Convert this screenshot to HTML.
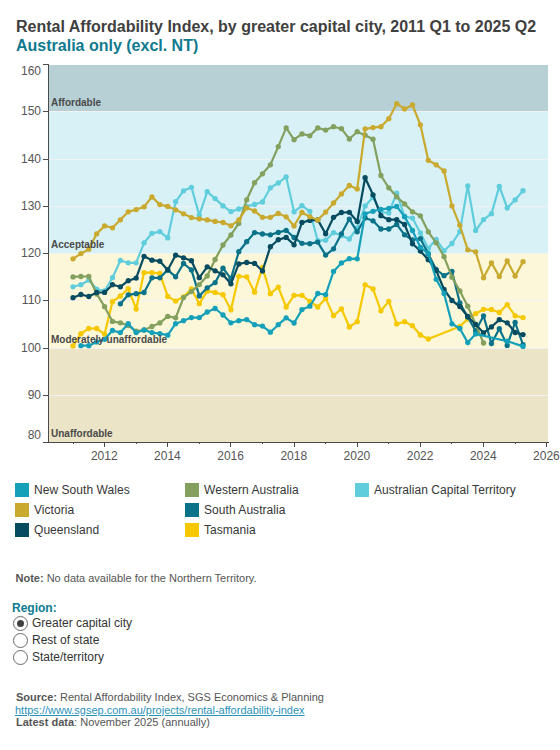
<!DOCTYPE html>
<html><head><meta charset="utf-8"><style>
html,body{margin:0;padding:0;background:#fff;width:560px;height:750px;overflow:hidden;font-family:"Liberation Sans",sans-serif;}
.t1{position:absolute;left:16px;top:18px;font-weight:bold;font-size:16px;color:#404040;white-space:nowrap;line-height:18px}
.t2{position:absolute;left:16px;top:37px;font-weight:bold;font-size:16px;color:#0f7a8f;white-space:nowrap;line-height:18px}
svg{position:absolute;left:0;top:0}
.bl{font-weight:bold;font-size:10px;fill:#4a4a4a;font-family:"Liberation Sans",sans-serif}
.yl{font-size:12px;fill:#555;font-family:"Liberation Sans",sans-serif}
.lg{position:absolute;font-size:12px;color:#363636;white-space:nowrap;line-height:14px;letter-spacing:0.05px}
.sw{position:absolute;width:14px;height:14px}
.note{position:absolute;left:15.5px;top:572px;font-size:11px;color:#555;white-space:nowrap}
.rh{position:absolute;left:12px;top:601px;font-size:12px;font-weight:bold;color:#0f7a8f}
.ro{position:absolute;font-size:12px;color:#333;white-space:nowrap}
.rc{position:absolute;width:15px;height:15px;border:1px solid #6a6a6a;border-radius:50%;box-sizing:border-box;background:#fff}
.src{position:absolute;left:16px;font-size:11px;color:#555;white-space:nowrap;line-height:12px}
a{color:#2a93b8;text-decoration:underline}
</style></head><body>
<div class="t1">Rental Affordability Index, by greater capital city, 2011 Q1 to 2025 Q2</div>
<div class="t2">Australia only (excl. NT)</div>
<svg width="560" height="480" viewBox="0 0 560 480">
<rect x="49" y="65" width="499" height="46" fill="#b6d0d6"/><rect x="49" y="111" width="499" height="142" fill="#d8f1f6"/><rect x="49" y="253" width="499" height="95" fill="#fcf7d8"/><rect x="49" y="348" width="499" height="94" fill="#ebe4c6"/><rect x="49" y="395" width="499" height="1" fill="#f2f2f3"/><rect x="49" y="348" width="499" height="1" fill="#f2f2f3"/><rect x="49" y="300" width="499" height="1" fill="#f2f2f3"/><rect x="49" y="253" width="499" height="1" fill="#f2f2f3"/><rect x="49" y="206" width="499" height="1" fill="#f2f2f3"/><rect x="49" y="159" width="499" height="1" fill="#f2f2f3"/><rect x="49" y="111" width="499" height="1" fill="#f2f2f3"/>
<path d="M73.00,286.80 L80.89,284.70 L88.79,280.20 L96.69,289.10 L104.58,291.00 L112.47,277.70 L120.37,260.50 L128.26,262.80 L136.16,262.80 L144.06,242.80 L151.95,233.30 L159.84,231.60 L167.74,237.90 L175.63,201.70 L183.53,190.80 L191.43,187.30 L199.32,215.40 L207.22,191.70 L215.11,198.60 L223.00,205.90 L230.90,211.60 L238.79,209.00 L246.69,206.40 L254.58,204.40 L262.48,202.00 L270.38,187.80 L278.27,183.00 L286.16,176.90 L294.06,211.80 L301.95,205.70 L309.85,211.30 L317.75,240.70 L325.64,240.20 L333.53,232.60 L341.43,235.50 L349.32,239.00 L357.22,228.00 L365.12,205.90 L373.01,197.30 L380.90,212.00 L388.80,213.00 L396.69,193.20 L404.59,216.50 L412.48,218.10 L420.38,233.00 L428.27,248.50 L436.17,239.30 L444.06,250.80 L451.96,243.50 L459.85,231.60 L467.75,185.90 L475.64,230.50 L483.54,219.60 L491.44,213.70 L499.33,186.40 L507.22,208.00 L515.12,199.90 L523.01,190.70" fill="none" stroke="#60cddc" stroke-width="2.2" stroke-linejoin="round"/><circle cx="73.00" cy="286.80" r="2.65" fill="#60cddc"/><circle cx="80.89" cy="284.70" r="2.65" fill="#60cddc"/><circle cx="88.79" cy="280.20" r="2.65" fill="#60cddc"/><circle cx="96.69" cy="289.10" r="2.65" fill="#60cddc"/><circle cx="104.58" cy="291.00" r="2.65" fill="#60cddc"/><circle cx="112.47" cy="277.70" r="2.65" fill="#60cddc"/><circle cx="120.37" cy="260.50" r="2.65" fill="#60cddc"/><circle cx="128.26" cy="262.80" r="2.65" fill="#60cddc"/><circle cx="136.16" cy="262.80" r="2.65" fill="#60cddc"/><circle cx="144.06" cy="242.80" r="2.65" fill="#60cddc"/><circle cx="151.95" cy="233.30" r="2.65" fill="#60cddc"/><circle cx="159.84" cy="231.60" r="2.65" fill="#60cddc"/><circle cx="167.74" cy="237.90" r="2.65" fill="#60cddc"/><circle cx="175.63" cy="201.70" r="2.65" fill="#60cddc"/><circle cx="183.53" cy="190.80" r="2.65" fill="#60cddc"/><circle cx="191.43" cy="187.30" r="2.65" fill="#60cddc"/><circle cx="199.32" cy="215.40" r="2.65" fill="#60cddc"/><circle cx="207.22" cy="191.70" r="2.65" fill="#60cddc"/><circle cx="215.11" cy="198.60" r="2.65" fill="#60cddc"/><circle cx="223.00" cy="205.90" r="2.65" fill="#60cddc"/><circle cx="230.90" cy="211.60" r="2.65" fill="#60cddc"/><circle cx="238.79" cy="209.00" r="2.65" fill="#60cddc"/><circle cx="246.69" cy="206.40" r="2.65" fill="#60cddc"/><circle cx="254.58" cy="204.40" r="2.65" fill="#60cddc"/><circle cx="262.48" cy="202.00" r="2.65" fill="#60cddc"/><circle cx="270.38" cy="187.80" r="2.65" fill="#60cddc"/><circle cx="278.27" cy="183.00" r="2.65" fill="#60cddc"/><circle cx="286.16" cy="176.90" r="2.65" fill="#60cddc"/><circle cx="294.06" cy="211.80" r="2.65" fill="#60cddc"/><circle cx="301.95" cy="205.70" r="2.65" fill="#60cddc"/><circle cx="309.85" cy="211.30" r="2.65" fill="#60cddc"/><circle cx="317.75" cy="240.70" r="2.65" fill="#60cddc"/><circle cx="325.64" cy="240.20" r="2.65" fill="#60cddc"/><circle cx="333.53" cy="232.60" r="2.65" fill="#60cddc"/><circle cx="341.43" cy="235.50" r="2.65" fill="#60cddc"/><circle cx="349.32" cy="239.00" r="2.65" fill="#60cddc"/><circle cx="357.22" cy="228.00" r="2.65" fill="#60cddc"/><circle cx="365.12" cy="205.90" r="2.65" fill="#60cddc"/><circle cx="373.01" cy="197.30" r="2.65" fill="#60cddc"/><circle cx="380.90" cy="212.00" r="2.65" fill="#60cddc"/><circle cx="388.80" cy="213.00" r="2.65" fill="#60cddc"/><circle cx="396.69" cy="193.20" r="2.65" fill="#60cddc"/><circle cx="404.59" cy="216.50" r="2.65" fill="#60cddc"/><circle cx="412.48" cy="218.10" r="2.65" fill="#60cddc"/><circle cx="420.38" cy="233.00" r="2.65" fill="#60cddc"/><circle cx="428.27" cy="248.50" r="2.65" fill="#60cddc"/><circle cx="436.17" cy="239.30" r="2.65" fill="#60cddc"/><circle cx="444.06" cy="250.80" r="2.65" fill="#60cddc"/><circle cx="451.96" cy="243.50" r="2.65" fill="#60cddc"/><circle cx="459.85" cy="231.60" r="2.65" fill="#60cddc"/><circle cx="467.75" cy="185.90" r="2.65" fill="#60cddc"/><circle cx="475.64" cy="230.50" r="2.65" fill="#60cddc"/><circle cx="483.54" cy="219.60" r="2.65" fill="#60cddc"/><circle cx="491.44" cy="213.70" r="2.65" fill="#60cddc"/><circle cx="499.33" cy="186.40" r="2.65" fill="#60cddc"/><circle cx="507.22" cy="208.00" r="2.65" fill="#60cddc"/><circle cx="515.12" cy="199.90" r="2.65" fill="#60cddc"/><circle cx="523.01" cy="190.70" r="2.65" fill="#60cddc"/><path d="M73.00,345.90 L80.89,333.70 L88.79,328.50 L96.69,328.50 L104.58,334.10 L112.47,301.70 L120.37,296.00 L128.26,288.70 L136.16,309.00 L144.06,272.60 L151.95,272.60 L159.84,273.40 L167.74,296.40 L175.63,301.10 L183.53,296.80 L191.43,289.00 L199.32,303.70 L207.22,291.20 L215.11,292.40 L223.00,294.70 L230.90,309.80 L238.79,276.30 L246.69,276.80 L254.58,292.20 L262.48,267.50 L270.38,293.70 L278.27,287.10 L286.16,307.00 L294.06,295.30 L301.95,295.30 L309.85,301.50 L317.75,307.00 L325.64,298.40 L333.53,315.70 L341.43,308.80 L349.32,327.00 L357.22,321.70 L365.12,284.80 L373.01,288.80 L380.90,310.80 L388.80,301.40 L396.69,323.90 L404.59,321.70 L412.48,325.70 L420.38,335.00 L428.27,339.00 L459.85,326.40 L467.75,319.00 L475.64,313.70 L483.54,309.30 L491.44,309.50 L499.33,312.50 L507.22,304.60 L515.12,315.80 L523.01,317.60" fill="none" stroke="#f6c800" stroke-width="2.2" stroke-linejoin="round"/><circle cx="73.00" cy="345.90" r="2.65" fill="#f6c800"/><circle cx="80.89" cy="333.70" r="2.65" fill="#f6c800"/><circle cx="88.79" cy="328.50" r="2.65" fill="#f6c800"/><circle cx="96.69" cy="328.50" r="2.65" fill="#f6c800"/><circle cx="104.58" cy="334.10" r="2.65" fill="#f6c800"/><circle cx="112.47" cy="301.70" r="2.65" fill="#f6c800"/><circle cx="120.37" cy="296.00" r="2.65" fill="#f6c800"/><circle cx="128.26" cy="288.70" r="2.65" fill="#f6c800"/><circle cx="136.16" cy="309.00" r="2.65" fill="#f6c800"/><circle cx="144.06" cy="272.60" r="2.65" fill="#f6c800"/><circle cx="151.95" cy="272.60" r="2.65" fill="#f6c800"/><circle cx="159.84" cy="273.40" r="2.65" fill="#f6c800"/><circle cx="167.74" cy="296.40" r="2.65" fill="#f6c800"/><circle cx="175.63" cy="301.10" r="2.65" fill="#f6c800"/><circle cx="183.53" cy="296.80" r="2.65" fill="#f6c800"/><circle cx="191.43" cy="289.00" r="2.65" fill="#f6c800"/><circle cx="199.32" cy="303.70" r="2.65" fill="#f6c800"/><circle cx="207.22" cy="291.20" r="2.65" fill="#f6c800"/><circle cx="215.11" cy="292.40" r="2.65" fill="#f6c800"/><circle cx="223.00" cy="294.70" r="2.65" fill="#f6c800"/><circle cx="230.90" cy="309.80" r="2.65" fill="#f6c800"/><circle cx="238.79" cy="276.30" r="2.65" fill="#f6c800"/><circle cx="246.69" cy="276.80" r="2.65" fill="#f6c800"/><circle cx="254.58" cy="292.20" r="2.65" fill="#f6c800"/><circle cx="262.48" cy="267.50" r="2.65" fill="#f6c800"/><circle cx="270.38" cy="293.70" r="2.65" fill="#f6c800"/><circle cx="278.27" cy="287.10" r="2.65" fill="#f6c800"/><circle cx="286.16" cy="307.00" r="2.65" fill="#f6c800"/><circle cx="294.06" cy="295.30" r="2.65" fill="#f6c800"/><circle cx="301.95" cy="295.30" r="2.65" fill="#f6c800"/><circle cx="309.85" cy="301.50" r="2.65" fill="#f6c800"/><circle cx="317.75" cy="307.00" r="2.65" fill="#f6c800"/><circle cx="325.64" cy="298.40" r="2.65" fill="#f6c800"/><circle cx="333.53" cy="315.70" r="2.65" fill="#f6c800"/><circle cx="341.43" cy="308.80" r="2.65" fill="#f6c800"/><circle cx="349.32" cy="327.00" r="2.65" fill="#f6c800"/><circle cx="357.22" cy="321.70" r="2.65" fill="#f6c800"/><circle cx="365.12" cy="284.80" r="2.65" fill="#f6c800"/><circle cx="373.01" cy="288.80" r="2.65" fill="#f6c800"/><circle cx="380.90" cy="310.80" r="2.65" fill="#f6c800"/><circle cx="388.80" cy="301.40" r="2.65" fill="#f6c800"/><circle cx="396.69" cy="323.90" r="2.65" fill="#f6c800"/><circle cx="404.59" cy="321.70" r="2.65" fill="#f6c800"/><circle cx="412.48" cy="325.70" r="2.65" fill="#f6c800"/><circle cx="420.38" cy="335.00" r="2.65" fill="#f6c800"/><circle cx="428.27" cy="339.00" r="2.65" fill="#f6c800"/><circle cx="459.85" cy="326.40" r="2.65" fill="#f6c800"/><circle cx="467.75" cy="319.00" r="2.65" fill="#f6c800"/><circle cx="475.64" cy="313.70" r="2.65" fill="#f6c800"/><circle cx="483.54" cy="309.30" r="2.65" fill="#f6c800"/><circle cx="491.44" cy="309.50" r="2.65" fill="#f6c800"/><circle cx="499.33" cy="312.50" r="2.65" fill="#f6c800"/><circle cx="507.22" cy="304.60" r="2.65" fill="#f6c800"/><circle cx="515.12" cy="315.80" r="2.65" fill="#f6c800"/><circle cx="523.01" cy="317.60" r="2.65" fill="#f6c800"/><path d="M120.37,303.80 L128.26,294.80 L136.16,293.70 L144.06,292.50 L151.95,277.80 L159.84,277.80 L167.74,269.90 L175.63,276.80 L183.53,263.50 L191.43,269.90 L199.32,295.90 L207.22,287.80 L215.11,282.60 L223.00,268.20 L230.90,278.60 L238.79,251.70 L246.69,241.70 L254.58,232.60 L262.48,234.00 L270.38,234.80 L278.27,232.40 L286.16,230.40 L294.06,237.50 L301.95,243.30 L309.85,243.70 L317.75,242.10 L325.64,255.10 L333.53,248.80 L341.43,233.80 L349.32,219.10 L357.22,231.80 L365.12,218.00 L373.01,220.80 L380.90,229.00 L388.80,229.00 L396.69,224.40 L404.59,234.80 L412.48,240.00 L420.38,238.60 L428.27,254.00 L436.17,269.50 L444.06,275.70 L451.96,271.30 L459.85,303.00 L467.75,317.00 L475.64,331.00 L483.54,315.80 L491.44,343.60 L499.33,328.70 L507.22,345.40 L515.12,322.50 L523.01,344.60" fill="none" stroke="#0a7289" stroke-width="2.2" stroke-linejoin="round"/><circle cx="120.37" cy="303.80" r="2.65" fill="#0a7289"/><circle cx="128.26" cy="294.80" r="2.65" fill="#0a7289"/><circle cx="136.16" cy="293.70" r="2.65" fill="#0a7289"/><circle cx="144.06" cy="292.50" r="2.65" fill="#0a7289"/><circle cx="151.95" cy="277.80" r="2.65" fill="#0a7289"/><circle cx="159.84" cy="277.80" r="2.65" fill="#0a7289"/><circle cx="167.74" cy="269.90" r="2.65" fill="#0a7289"/><circle cx="175.63" cy="276.80" r="2.65" fill="#0a7289"/><circle cx="183.53" cy="263.50" r="2.65" fill="#0a7289"/><circle cx="191.43" cy="269.90" r="2.65" fill="#0a7289"/><circle cx="199.32" cy="295.90" r="2.65" fill="#0a7289"/><circle cx="207.22" cy="287.80" r="2.65" fill="#0a7289"/><circle cx="215.11" cy="282.60" r="2.65" fill="#0a7289"/><circle cx="223.00" cy="268.20" r="2.65" fill="#0a7289"/><circle cx="230.90" cy="278.60" r="2.65" fill="#0a7289"/><circle cx="238.79" cy="251.70" r="2.65" fill="#0a7289"/><circle cx="246.69" cy="241.70" r="2.65" fill="#0a7289"/><circle cx="254.58" cy="232.60" r="2.65" fill="#0a7289"/><circle cx="262.48" cy="234.00" r="2.65" fill="#0a7289"/><circle cx="270.38" cy="234.80" r="2.65" fill="#0a7289"/><circle cx="278.27" cy="232.40" r="2.65" fill="#0a7289"/><circle cx="286.16" cy="230.40" r="2.65" fill="#0a7289"/><circle cx="294.06" cy="237.50" r="2.65" fill="#0a7289"/><circle cx="301.95" cy="243.30" r="2.65" fill="#0a7289"/><circle cx="309.85" cy="243.70" r="2.65" fill="#0a7289"/><circle cx="317.75" cy="242.10" r="2.65" fill="#0a7289"/><circle cx="325.64" cy="255.10" r="2.65" fill="#0a7289"/><circle cx="333.53" cy="248.80" r="2.65" fill="#0a7289"/><circle cx="341.43" cy="233.80" r="2.65" fill="#0a7289"/><circle cx="349.32" cy="219.10" r="2.65" fill="#0a7289"/><circle cx="357.22" cy="231.80" r="2.65" fill="#0a7289"/><circle cx="365.12" cy="218.00" r="2.65" fill="#0a7289"/><circle cx="373.01" cy="220.80" r="2.65" fill="#0a7289"/><circle cx="380.90" cy="229.00" r="2.65" fill="#0a7289"/><circle cx="388.80" cy="229.00" r="2.65" fill="#0a7289"/><circle cx="396.69" cy="224.40" r="2.65" fill="#0a7289"/><circle cx="404.59" cy="234.80" r="2.65" fill="#0a7289"/><circle cx="412.48" cy="240.00" r="2.65" fill="#0a7289"/><circle cx="420.38" cy="238.60" r="2.65" fill="#0a7289"/><circle cx="428.27" cy="254.00" r="2.65" fill="#0a7289"/><circle cx="436.17" cy="269.50" r="2.65" fill="#0a7289"/><circle cx="444.06" cy="275.70" r="2.65" fill="#0a7289"/><circle cx="451.96" cy="271.30" r="2.65" fill="#0a7289"/><circle cx="459.85" cy="303.00" r="2.65" fill="#0a7289"/><circle cx="467.75" cy="317.00" r="2.65" fill="#0a7289"/><circle cx="475.64" cy="331.00" r="2.65" fill="#0a7289"/><circle cx="483.54" cy="315.80" r="2.65" fill="#0a7289"/><circle cx="491.44" cy="343.60" r="2.65" fill="#0a7289"/><circle cx="499.33" cy="328.70" r="2.65" fill="#0a7289"/><circle cx="507.22" cy="345.40" r="2.65" fill="#0a7289"/><circle cx="515.12" cy="322.50" r="2.65" fill="#0a7289"/><circle cx="523.01" cy="344.60" r="2.65" fill="#0a7289"/><path d="M73.00,276.90 L80.89,276.50 L88.79,276.50 L96.69,294.00 L104.58,306.70 L112.47,321.40 L120.37,322.80 L128.26,325.60 L136.16,331.20 L144.06,330.00 L151.95,326.50 L159.84,322.90 L167.74,316.40 L175.63,317.80 L183.53,297.60 L191.43,291.60 L199.32,284.60 L207.22,276.00 L215.11,259.50 L223.00,245.00 L230.90,235.00 L238.79,223.40 L246.69,199.80 L254.58,182.70 L262.48,173.80 L270.38,164.80 L278.27,146.60 L286.16,127.90 L294.06,139.70 L301.95,133.90 L309.85,135.80 L317.75,127.90 L325.64,130.10 L333.53,126.70 L341.43,128.70 L349.32,139.00 L357.22,131.70 L365.12,135.20 L373.01,139.20 L380.90,175.50 L388.80,187.80 L396.69,196.80 L404.59,203.90 L412.48,211.80 L420.38,215.80 L428.27,231.80 L436.17,242.80 L444.06,256.70 L451.96,277.20 L459.85,290.90 L467.75,306.20 L475.64,324.40 L483.54,343.00" fill="none" stroke="#84a05e" stroke-width="2.2" stroke-linejoin="round"/><circle cx="73.00" cy="276.90" r="2.65" fill="#84a05e"/><circle cx="80.89" cy="276.50" r="2.65" fill="#84a05e"/><circle cx="88.79" cy="276.50" r="2.65" fill="#84a05e"/><circle cx="96.69" cy="294.00" r="2.65" fill="#84a05e"/><circle cx="104.58" cy="306.70" r="2.65" fill="#84a05e"/><circle cx="112.47" cy="321.40" r="2.65" fill="#84a05e"/><circle cx="120.37" cy="322.80" r="2.65" fill="#84a05e"/><circle cx="128.26" cy="325.60" r="2.65" fill="#84a05e"/><circle cx="136.16" cy="331.20" r="2.65" fill="#84a05e"/><circle cx="144.06" cy="330.00" r="2.65" fill="#84a05e"/><circle cx="151.95" cy="326.50" r="2.65" fill="#84a05e"/><circle cx="159.84" cy="322.90" r="2.65" fill="#84a05e"/><circle cx="167.74" cy="316.40" r="2.65" fill="#84a05e"/><circle cx="175.63" cy="317.80" r="2.65" fill="#84a05e"/><circle cx="183.53" cy="297.60" r="2.65" fill="#84a05e"/><circle cx="191.43" cy="291.60" r="2.65" fill="#84a05e"/><circle cx="199.32" cy="284.60" r="2.65" fill="#84a05e"/><circle cx="207.22" cy="276.00" r="2.65" fill="#84a05e"/><circle cx="215.11" cy="259.50" r="2.65" fill="#84a05e"/><circle cx="223.00" cy="245.00" r="2.65" fill="#84a05e"/><circle cx="230.90" cy="235.00" r="2.65" fill="#84a05e"/><circle cx="238.79" cy="223.40" r="2.65" fill="#84a05e"/><circle cx="246.69" cy="199.80" r="2.65" fill="#84a05e"/><circle cx="254.58" cy="182.70" r="2.65" fill="#84a05e"/><circle cx="262.48" cy="173.80" r="2.65" fill="#84a05e"/><circle cx="270.38" cy="164.80" r="2.65" fill="#84a05e"/><circle cx="278.27" cy="146.60" r="2.65" fill="#84a05e"/><circle cx="286.16" cy="127.90" r="2.65" fill="#84a05e"/><circle cx="294.06" cy="139.70" r="2.65" fill="#84a05e"/><circle cx="301.95" cy="133.90" r="2.65" fill="#84a05e"/><circle cx="309.85" cy="135.80" r="2.65" fill="#84a05e"/><circle cx="317.75" cy="127.90" r="2.65" fill="#84a05e"/><circle cx="325.64" cy="130.10" r="2.65" fill="#84a05e"/><circle cx="333.53" cy="126.70" r="2.65" fill="#84a05e"/><circle cx="341.43" cy="128.70" r="2.65" fill="#84a05e"/><circle cx="349.32" cy="139.00" r="2.65" fill="#84a05e"/><circle cx="357.22" cy="131.70" r="2.65" fill="#84a05e"/><circle cx="365.12" cy="135.20" r="2.65" fill="#84a05e"/><circle cx="373.01" cy="139.20" r="2.65" fill="#84a05e"/><circle cx="380.90" cy="175.50" r="2.65" fill="#84a05e"/><circle cx="388.80" cy="187.80" r="2.65" fill="#84a05e"/><circle cx="396.69" cy="196.80" r="2.65" fill="#84a05e"/><circle cx="404.59" cy="203.90" r="2.65" fill="#84a05e"/><circle cx="412.48" cy="211.80" r="2.65" fill="#84a05e"/><circle cx="420.38" cy="215.80" r="2.65" fill="#84a05e"/><circle cx="428.27" cy="231.80" r="2.65" fill="#84a05e"/><circle cx="436.17" cy="242.80" r="2.65" fill="#84a05e"/><circle cx="444.06" cy="256.70" r="2.65" fill="#84a05e"/><circle cx="451.96" cy="277.20" r="2.65" fill="#84a05e"/><circle cx="459.85" cy="290.90" r="2.65" fill="#84a05e"/><circle cx="467.75" cy="306.20" r="2.65" fill="#84a05e"/><circle cx="475.64" cy="324.40" r="2.65" fill="#84a05e"/><circle cx="483.54" cy="343.00" r="2.65" fill="#84a05e"/><path d="M73.00,297.70 L80.89,294.50 L88.79,296.50 L96.69,292.50 L104.58,292.40 L112.47,284.70 L120.37,286.80 L128.26,280.70 L136.16,278.10 L144.06,256.30 L151.95,260.20 L159.84,261.20 L167.74,269.90 L175.63,255.20 L183.53,257.80 L191.43,260.70 L199.32,277.70 L207.22,266.80 L215.11,270.80 L223.00,274.80 L230.90,283.80 L238.79,263.90 L246.69,262.50 L254.58,263.40 L262.48,271.00 L270.38,246.70 L278.27,239.70 L286.16,237.40 L294.06,244.80 L301.95,222.50 L309.85,220.40 L317.75,219.90 L325.64,233.80 L333.53,217.30 L341.43,212.50 L349.32,212.30 L357.22,221.50 L365.12,177.70 L373.01,194.80 L380.90,215.70 L388.80,219.70 L396.69,219.70 L404.59,224.50 L412.48,243.80 L420.38,251.00 L428.27,259.70 L436.17,270.40 L444.06,289.50 L451.96,300.50 L459.85,306.50 L467.75,316.50 L475.64,324.50 L483.54,332.80 L491.44,326.90 L499.33,319.70 L507.22,322.80 L515.12,332.50 L523.01,334.60" fill="none" stroke="#064b5f" stroke-width="2.2" stroke-linejoin="round"/><circle cx="73.00" cy="297.70" r="2.65" fill="#064b5f"/><circle cx="80.89" cy="294.50" r="2.65" fill="#064b5f"/><circle cx="88.79" cy="296.50" r="2.65" fill="#064b5f"/><circle cx="96.69" cy="292.50" r="2.65" fill="#064b5f"/><circle cx="104.58" cy="292.40" r="2.65" fill="#064b5f"/><circle cx="112.47" cy="284.70" r="2.65" fill="#064b5f"/><circle cx="120.37" cy="286.80" r="2.65" fill="#064b5f"/><circle cx="128.26" cy="280.70" r="2.65" fill="#064b5f"/><circle cx="136.16" cy="278.10" r="2.65" fill="#064b5f"/><circle cx="144.06" cy="256.30" r="2.65" fill="#064b5f"/><circle cx="151.95" cy="260.20" r="2.65" fill="#064b5f"/><circle cx="159.84" cy="261.20" r="2.65" fill="#064b5f"/><circle cx="167.74" cy="269.90" r="2.65" fill="#064b5f"/><circle cx="175.63" cy="255.20" r="2.65" fill="#064b5f"/><circle cx="183.53" cy="257.80" r="2.65" fill="#064b5f"/><circle cx="191.43" cy="260.70" r="2.65" fill="#064b5f"/><circle cx="199.32" cy="277.70" r="2.65" fill="#064b5f"/><circle cx="207.22" cy="266.80" r="2.65" fill="#064b5f"/><circle cx="215.11" cy="270.80" r="2.65" fill="#064b5f"/><circle cx="223.00" cy="274.80" r="2.65" fill="#064b5f"/><circle cx="230.90" cy="283.80" r="2.65" fill="#064b5f"/><circle cx="238.79" cy="263.90" r="2.65" fill="#064b5f"/><circle cx="246.69" cy="262.50" r="2.65" fill="#064b5f"/><circle cx="254.58" cy="263.40" r="2.65" fill="#064b5f"/><circle cx="262.48" cy="271.00" r="2.65" fill="#064b5f"/><circle cx="270.38" cy="246.70" r="2.65" fill="#064b5f"/><circle cx="278.27" cy="239.70" r="2.65" fill="#064b5f"/><circle cx="286.16" cy="237.40" r="2.65" fill="#064b5f"/><circle cx="294.06" cy="244.80" r="2.65" fill="#064b5f"/><circle cx="301.95" cy="222.50" r="2.65" fill="#064b5f"/><circle cx="309.85" cy="220.40" r="2.65" fill="#064b5f"/><circle cx="317.75" cy="219.90" r="2.65" fill="#064b5f"/><circle cx="325.64" cy="233.80" r="2.65" fill="#064b5f"/><circle cx="333.53" cy="217.30" r="2.65" fill="#064b5f"/><circle cx="341.43" cy="212.50" r="2.65" fill="#064b5f"/><circle cx="349.32" cy="212.30" r="2.65" fill="#064b5f"/><circle cx="357.22" cy="221.50" r="2.65" fill="#064b5f"/><circle cx="365.12" cy="177.70" r="2.65" fill="#064b5f"/><circle cx="373.01" cy="194.80" r="2.65" fill="#064b5f"/><circle cx="380.90" cy="215.70" r="2.65" fill="#064b5f"/><circle cx="388.80" cy="219.70" r="2.65" fill="#064b5f"/><circle cx="396.69" cy="219.70" r="2.65" fill="#064b5f"/><circle cx="404.59" cy="224.50" r="2.65" fill="#064b5f"/><circle cx="412.48" cy="243.80" r="2.65" fill="#064b5f"/><circle cx="420.38" cy="251.00" r="2.65" fill="#064b5f"/><circle cx="428.27" cy="259.70" r="2.65" fill="#064b5f"/><circle cx="436.17" cy="270.40" r="2.65" fill="#064b5f"/><circle cx="444.06" cy="289.50" r="2.65" fill="#064b5f"/><circle cx="451.96" cy="300.50" r="2.65" fill="#064b5f"/><circle cx="459.85" cy="306.50" r="2.65" fill="#064b5f"/><circle cx="467.75" cy="316.50" r="2.65" fill="#064b5f"/><circle cx="475.64" cy="324.50" r="2.65" fill="#064b5f"/><circle cx="483.54" cy="332.80" r="2.65" fill="#064b5f"/><circle cx="491.44" cy="326.90" r="2.65" fill="#064b5f"/><circle cx="499.33" cy="319.70" r="2.65" fill="#064b5f"/><circle cx="507.22" cy="322.80" r="2.65" fill="#064b5f"/><circle cx="515.12" cy="332.50" r="2.65" fill="#064b5f"/><circle cx="523.01" cy="334.60" r="2.65" fill="#064b5f"/><path d="M73.00,258.80 L80.89,253.70 L88.79,249.20 L96.69,233.80 L104.58,225.90 L112.47,227.80 L120.37,219.80 L128.26,211.80 L136.16,209.60 L144.06,206.80 L151.95,196.90 L159.84,204.60 L167.74,206.40 L175.63,209.80 L183.53,213.80 L191.43,217.60 L199.32,218.80 L207.22,219.90 L215.11,221.40 L223.00,222.50 L230.90,225.80 L238.79,219.90 L246.69,207.80 L254.58,211.00 L262.48,217.30 L270.38,217.30 L278.27,213.50 L286.16,216.80 L294.06,226.00 L301.95,212.50 L309.85,216.80 L317.75,219.90 L325.64,212.10 L333.53,203.00 L341.43,193.90 L349.32,185.50 L357.22,188.90 L365.12,128.80 L373.01,127.60 L380.90,126.70 L388.80,118.70 L396.69,103.70 L404.59,108.90 L412.48,105.00 L420.38,124.80 L428.27,160.30 L436.17,164.80 L444.06,171.00 L451.96,205.90 L459.85,225.30 L467.75,249.80 L475.64,251.80 L483.54,277.80 L491.44,262.80 L499.33,276.60 L507.22,260.90 L515.12,276.10 L523.01,261.70" fill="none" stroke="#c9a92e" stroke-width="2.2" stroke-linejoin="round"/><circle cx="73.00" cy="258.80" r="2.65" fill="#c9a92e"/><circle cx="80.89" cy="253.70" r="2.65" fill="#c9a92e"/><circle cx="88.79" cy="249.20" r="2.65" fill="#c9a92e"/><circle cx="96.69" cy="233.80" r="2.65" fill="#c9a92e"/><circle cx="104.58" cy="225.90" r="2.65" fill="#c9a92e"/><circle cx="112.47" cy="227.80" r="2.65" fill="#c9a92e"/><circle cx="120.37" cy="219.80" r="2.65" fill="#c9a92e"/><circle cx="128.26" cy="211.80" r="2.65" fill="#c9a92e"/><circle cx="136.16" cy="209.60" r="2.65" fill="#c9a92e"/><circle cx="144.06" cy="206.80" r="2.65" fill="#c9a92e"/><circle cx="151.95" cy="196.90" r="2.65" fill="#c9a92e"/><circle cx="159.84" cy="204.60" r="2.65" fill="#c9a92e"/><circle cx="167.74" cy="206.40" r="2.65" fill="#c9a92e"/><circle cx="175.63" cy="209.80" r="2.65" fill="#c9a92e"/><circle cx="183.53" cy="213.80" r="2.65" fill="#c9a92e"/><circle cx="191.43" cy="217.60" r="2.65" fill="#c9a92e"/><circle cx="199.32" cy="218.80" r="2.65" fill="#c9a92e"/><circle cx="207.22" cy="219.90" r="2.65" fill="#c9a92e"/><circle cx="215.11" cy="221.40" r="2.65" fill="#c9a92e"/><circle cx="223.00" cy="222.50" r="2.65" fill="#c9a92e"/><circle cx="230.90" cy="225.80" r="2.65" fill="#c9a92e"/><circle cx="238.79" cy="219.90" r="2.65" fill="#c9a92e"/><circle cx="246.69" cy="207.80" r="2.65" fill="#c9a92e"/><circle cx="254.58" cy="211.00" r="2.65" fill="#c9a92e"/><circle cx="262.48" cy="217.30" r="2.65" fill="#c9a92e"/><circle cx="270.38" cy="217.30" r="2.65" fill="#c9a92e"/><circle cx="278.27" cy="213.50" r="2.65" fill="#c9a92e"/><circle cx="286.16" cy="216.80" r="2.65" fill="#c9a92e"/><circle cx="294.06" cy="226.00" r="2.65" fill="#c9a92e"/><circle cx="301.95" cy="212.50" r="2.65" fill="#c9a92e"/><circle cx="309.85" cy="216.80" r="2.65" fill="#c9a92e"/><circle cx="317.75" cy="219.90" r="2.65" fill="#c9a92e"/><circle cx="325.64" cy="212.10" r="2.65" fill="#c9a92e"/><circle cx="333.53" cy="203.00" r="2.65" fill="#c9a92e"/><circle cx="341.43" cy="193.90" r="2.65" fill="#c9a92e"/><circle cx="349.32" cy="185.50" r="2.65" fill="#c9a92e"/><circle cx="357.22" cy="188.90" r="2.65" fill="#c9a92e"/><circle cx="365.12" cy="128.80" r="2.65" fill="#c9a92e"/><circle cx="373.01" cy="127.60" r="2.65" fill="#c9a92e"/><circle cx="380.90" cy="126.70" r="2.65" fill="#c9a92e"/><circle cx="388.80" cy="118.70" r="2.65" fill="#c9a92e"/><circle cx="396.69" cy="103.70" r="2.65" fill="#c9a92e"/><circle cx="404.59" cy="108.90" r="2.65" fill="#c9a92e"/><circle cx="412.48" cy="105.00" r="2.65" fill="#c9a92e"/><circle cx="420.38" cy="124.80" r="2.65" fill="#c9a92e"/><circle cx="428.27" cy="160.30" r="2.65" fill="#c9a92e"/><circle cx="436.17" cy="164.80" r="2.65" fill="#c9a92e"/><circle cx="444.06" cy="171.00" r="2.65" fill="#c9a92e"/><circle cx="451.96" cy="205.90" r="2.65" fill="#c9a92e"/><circle cx="459.85" cy="225.30" r="2.65" fill="#c9a92e"/><circle cx="467.75" cy="249.80" r="2.65" fill="#c9a92e"/><circle cx="475.64" cy="251.80" r="2.65" fill="#c9a92e"/><circle cx="483.54" cy="277.80" r="2.65" fill="#c9a92e"/><circle cx="491.44" cy="262.80" r="2.65" fill="#c9a92e"/><circle cx="499.33" cy="276.60" r="2.65" fill="#c9a92e"/><circle cx="507.22" cy="260.90" r="2.65" fill="#c9a92e"/><circle cx="515.12" cy="276.10" r="2.65" fill="#c9a92e"/><circle cx="523.01" cy="261.70" r="2.65" fill="#c9a92e"/><path d="M80.89,345.70 L88.79,345.70 L96.69,341.90 L104.58,339.30 L112.47,330.50 L120.37,332.60 L128.26,323.70 L136.16,332.60 L144.06,330.00 L151.95,332.60 L159.84,333.60 L167.74,335.20 L175.63,323.70 L183.53,320.70 L191.43,317.60 L199.32,317.60 L207.22,312.00 L215.11,308.50 L223.00,315.00 L230.90,322.80 L238.79,320.70 L246.69,319.60 L254.58,324.70 L262.48,326.10 L270.38,332.20 L278.27,324.70 L286.16,317.80 L294.06,323.00 L301.95,309.60 L309.85,306.20 L317.75,293.50 L325.64,294.60 L333.53,271.50 L341.43,262.90 L349.32,258.70 L357.22,258.80 L365.12,213.80 L373.01,211.30 L380.90,209.30 L388.80,208.30 L396.69,206.40 L404.59,216.70 L412.48,230.50 L420.38,247.30 L428.27,253.70 L436.17,279.30 L444.06,293.50 L451.96,323.80 L459.85,328.50 L467.75,342.60 L475.64,333.90 L507.22,341.20 L523.01,346.40" fill="none" stroke="#15a0ba" stroke-width="2.2" stroke-linejoin="round"/><circle cx="80.89" cy="345.70" r="2.65" fill="#15a0ba"/><circle cx="88.79" cy="345.70" r="2.65" fill="#15a0ba"/><circle cx="96.69" cy="341.90" r="2.65" fill="#15a0ba"/><circle cx="104.58" cy="339.30" r="2.65" fill="#15a0ba"/><circle cx="112.47" cy="330.50" r="2.65" fill="#15a0ba"/><circle cx="120.37" cy="332.60" r="2.65" fill="#15a0ba"/><circle cx="128.26" cy="323.70" r="2.65" fill="#15a0ba"/><circle cx="136.16" cy="332.60" r="2.65" fill="#15a0ba"/><circle cx="144.06" cy="330.00" r="2.65" fill="#15a0ba"/><circle cx="151.95" cy="332.60" r="2.65" fill="#15a0ba"/><circle cx="159.84" cy="333.60" r="2.65" fill="#15a0ba"/><circle cx="167.74" cy="335.20" r="2.65" fill="#15a0ba"/><circle cx="175.63" cy="323.70" r="2.65" fill="#15a0ba"/><circle cx="183.53" cy="320.70" r="2.65" fill="#15a0ba"/><circle cx="191.43" cy="317.60" r="2.65" fill="#15a0ba"/><circle cx="199.32" cy="317.60" r="2.65" fill="#15a0ba"/><circle cx="207.22" cy="312.00" r="2.65" fill="#15a0ba"/><circle cx="215.11" cy="308.50" r="2.65" fill="#15a0ba"/><circle cx="223.00" cy="315.00" r="2.65" fill="#15a0ba"/><circle cx="230.90" cy="322.80" r="2.65" fill="#15a0ba"/><circle cx="238.79" cy="320.70" r="2.65" fill="#15a0ba"/><circle cx="246.69" cy="319.60" r="2.65" fill="#15a0ba"/><circle cx="254.58" cy="324.70" r="2.65" fill="#15a0ba"/><circle cx="262.48" cy="326.10" r="2.65" fill="#15a0ba"/><circle cx="270.38" cy="332.20" r="2.65" fill="#15a0ba"/><circle cx="278.27" cy="324.70" r="2.65" fill="#15a0ba"/><circle cx="286.16" cy="317.80" r="2.65" fill="#15a0ba"/><circle cx="294.06" cy="323.00" r="2.65" fill="#15a0ba"/><circle cx="301.95" cy="309.60" r="2.65" fill="#15a0ba"/><circle cx="309.85" cy="306.20" r="2.65" fill="#15a0ba"/><circle cx="317.75" cy="293.50" r="2.65" fill="#15a0ba"/><circle cx="325.64" cy="294.60" r="2.65" fill="#15a0ba"/><circle cx="333.53" cy="271.50" r="2.65" fill="#15a0ba"/><circle cx="341.43" cy="262.90" r="2.65" fill="#15a0ba"/><circle cx="349.32" cy="258.70" r="2.65" fill="#15a0ba"/><circle cx="357.22" cy="258.80" r="2.65" fill="#15a0ba"/><circle cx="365.12" cy="213.80" r="2.65" fill="#15a0ba"/><circle cx="373.01" cy="211.30" r="2.65" fill="#15a0ba"/><circle cx="380.90" cy="209.30" r="2.65" fill="#15a0ba"/><circle cx="388.80" cy="208.30" r="2.65" fill="#15a0ba"/><circle cx="396.69" cy="206.40" r="2.65" fill="#15a0ba"/><circle cx="404.59" cy="216.70" r="2.65" fill="#15a0ba"/><circle cx="412.48" cy="230.50" r="2.65" fill="#15a0ba"/><circle cx="420.38" cy="247.30" r="2.65" fill="#15a0ba"/><circle cx="428.27" cy="253.70" r="2.65" fill="#15a0ba"/><circle cx="436.17" cy="279.30" r="2.65" fill="#15a0ba"/><circle cx="444.06" cy="293.50" r="2.65" fill="#15a0ba"/><circle cx="451.96" cy="323.80" r="2.65" fill="#15a0ba"/><circle cx="459.85" cy="328.50" r="2.65" fill="#15a0ba"/><circle cx="467.75" cy="342.60" r="2.65" fill="#15a0ba"/><circle cx="475.64" cy="333.90" r="2.65" fill="#15a0ba"/><circle cx="507.22" cy="341.20" r="2.65" fill="#15a0ba"/><circle cx="523.01" cy="346.40" r="2.65" fill="#15a0ba"/>
<text x="51" y="106.25" class="bl">Affordable</text><text x="51" y="248.00" class="bl">Acceptable</text><text x="51" y="342.50" class="bl">Moderately unaffordable</text><text x="51" y="437.00" class="bl">Unaffordable</text>
<rect x="48" y="64" width="1" height="379" fill="#4a4a4a"/><rect x="43" y="442" width="506" height="1" fill="#4a4a4a"/><rect x="43" y="442" width="5" height="1" fill="#4a4a4a"/><text x="41" y="439.00" class="yl" text-anchor="end">80</text><rect x="43" y="395" width="5" height="1" fill="#4a4a4a"/><text x="41" y="399.00" class="yl" text-anchor="end">90</text><rect x="43" y="348" width="5" height="1" fill="#4a4a4a"/><text x="41" y="352.00" class="yl" text-anchor="end">100</text><rect x="43" y="300" width="5" height="1" fill="#4a4a4a"/><text x="41" y="304.00" class="yl" text-anchor="end">110</text><rect x="43" y="253" width="5" height="1" fill="#4a4a4a"/><text x="41" y="257.00" class="yl" text-anchor="end">120</text><rect x="43" y="206" width="5" height="1" fill="#4a4a4a"/><text x="41" y="210.00" class="yl" text-anchor="end">130</text><rect x="43" y="159" width="5" height="1" fill="#4a4a4a"/><text x="41" y="163.00" class="yl" text-anchor="end">140</text><rect x="43" y="111" width="5" height="1" fill="#4a4a4a"/><text x="41" y="115.00" class="yl" text-anchor="end">150</text><rect x="43" y="64" width="5" height="1" fill="#4a4a4a"/><text x="41" y="75.00" class="yl" text-anchor="end">160</text><rect x="73" y="442" width="1" height="2" fill="#4a4a4a"/><rect x="104" y="442" width="1" height="5" fill="#4a4a4a"/><text x="104.28" y="460" class="yl" text-anchor="middle">2012</text><rect x="136" y="442" width="1" height="2" fill="#4a4a4a"/><rect x="167" y="442" width="1" height="5" fill="#4a4a4a"/><text x="167.44" y="460" class="yl" text-anchor="middle">2014</text><rect x="199" y="442" width="1" height="2" fill="#4a4a4a"/><rect x="230" y="442" width="1" height="5" fill="#4a4a4a"/><text x="230.60" y="460" class="yl" text-anchor="middle">2016</text><rect x="262" y="442" width="1" height="2" fill="#4a4a4a"/><rect x="294" y="442" width="1" height="5" fill="#4a4a4a"/><text x="293.76" y="460" class="yl" text-anchor="middle">2018</text><rect x="325" y="442" width="1" height="2" fill="#4a4a4a"/><rect x="357" y="442" width="1" height="5" fill="#4a4a4a"/><text x="356.92" y="460" class="yl" text-anchor="middle">2020</text><rect x="388" y="442" width="1" height="2" fill="#4a4a4a"/><rect x="420" y="442" width="1" height="5" fill="#4a4a4a"/><text x="420.08" y="460" class="yl" text-anchor="middle">2022</text><rect x="451" y="442" width="1" height="2" fill="#4a4a4a"/><rect x="483" y="442" width="1" height="5" fill="#4a4a4a"/><text x="483.24" y="460" class="yl" text-anchor="middle">2024</text><rect x="515" y="442" width="1" height="2" fill="#4a4a4a"/><rect x="546" y="442" width="1" height="5" fill="#4a4a4a"/><text x="546.40" y="460" class="yl" text-anchor="middle">2026</text>
</svg>
<div class="sw" style="left:15px;top:483px;background:#15a0ba"></div><div class="lg" style="left:34px;top:483px">New South Wales</div>
<div class="sw" style="left:15px;top:503px;background:#c9a92e"></div><div class="lg" style="left:34px;top:503px">Victoria</div>
<div class="sw" style="left:15px;top:523px;background:#064b5f"></div><div class="lg" style="left:34px;top:523px">Queensland</div>
<div class="sw" style="left:185px;top:483px;background:#84a05e"></div><div class="lg" style="left:204px;top:483px">Western Australia</div>
<div class="sw" style="left:185px;top:503px;background:#0a7289"></div><div class="lg" style="left:204px;top:503px">South Australia</div>
<div class="sw" style="left:185px;top:523px;background:#f6c800"></div><div class="lg" style="left:204px;top:523px">Tasmania</div>
<div class="sw" style="left:355px;top:483px;background:#60cddc"></div><div class="lg" style="left:374px;top:483px">Australian Capital Territory</div>
<div class="note"><b>Note:</b> No data available for the Northern Territory.</div>
<div class="rh">Region:</div>
<div class="rc" style="left:13px;top:616px"></div><div style="position:absolute;left:17px;top:620px;width:7px;height:7px;border-radius:50%;background:#404040"></div>
<div class="ro" style="left:32px;top:616.3px">Greater capital city</div>
<div class="rc" style="left:13px;top:633px"></div><div class="ro" style="left:32px;top:633.3px">Rest of state</div>
<div class="rc" style="left:13px;top:650px"></div><div class="ro" style="left:32px;top:650.3px">State/territory</div>
<div class="src" style="top:691px"><b>Source:</b> Rental Affordability Index, SGS Economics &amp; Planning</div>
<div class="src" style="top:703.5px;left:15px"><a>https://www.sgsep.com.au/projects/rental-affordability-index</a></div>
<div class="src" style="top:716px"><b>Latest data</b>: November 2025 (annually)</div>
</body></html>
